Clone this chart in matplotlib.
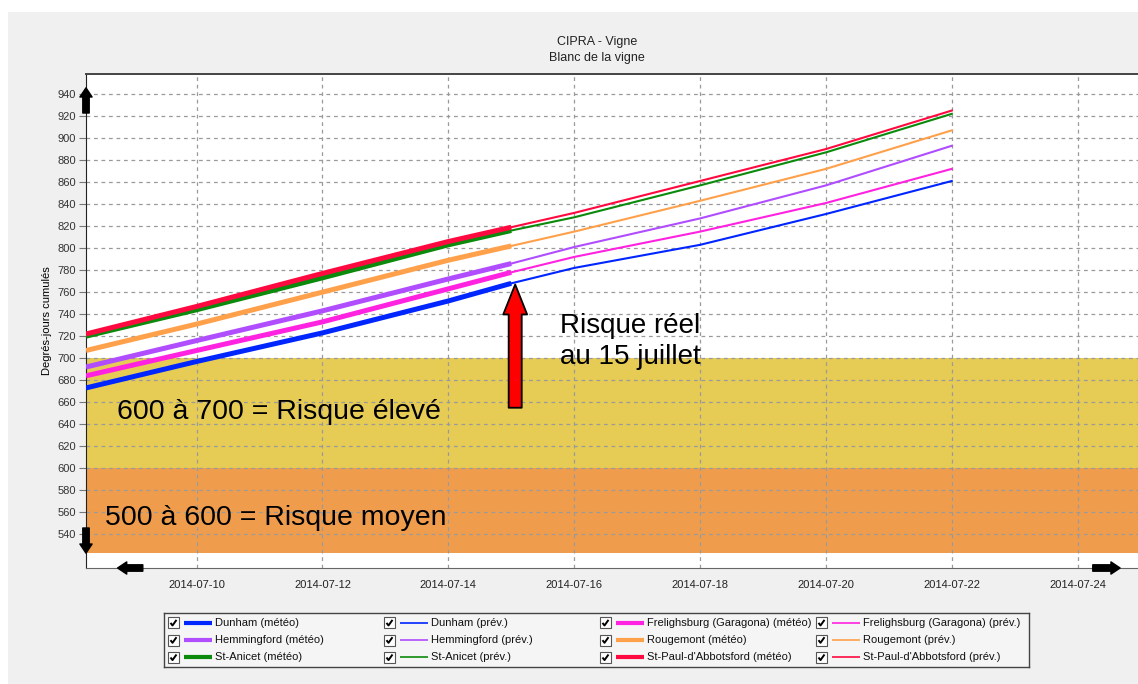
import matplotlib
matplotlib.use('Agg')
import matplotlib.pyplot as plt
import pandas as pd
from matplotlib.patches import Rectangle

plt.rcParams['font.family'] = ['Liberation Sans', 'DejaVu Sans']

# dates (données météo puis prévisions)
obs_dates = pd.to_datetime(['2014-07-08 05:50', '2014-07-10 00:00', '2014-07-12 00:00',
                            '2014-07-14 00:00', '2014-07-15 00:00'])
prev_dates = pd.to_datetime(['2014-07-15 00:00', '2014-07-16 00:00', '2014-07-18 00:00',
                             '2014-07-20 00:00', '2014-07-22 00:00'])

stations = ['Dunham', 'Frelighsburg (Garagona)', 'Hemmingford', 'Rougemont', 'St-Anicet', "St-Paul-d'Abbotsford"]
couleurs = ['#0026ff', '#ff22e0', '#b04dff', '#ffa04a', '#0b8a0b', '#ff0a40']

dunham_obs = [673, 697, 723, 752, 768]
dunham_prev = [768, 782, 803, 831, 861]
freli_obs = [684, 707, 733, 763, 778]
freli_prev = [778, 792, 815, 841, 872]
hemm_obs = [692, 716, 743, 772, 786]
hemm_prev = [786, 801, 827, 857, 893]
rouge_obs = [707, 731, 760, 789, 802]
rouge_prev = [802, 815, 843, 872, 907]
anicet_obs = [720, 744, 773, 803, 816]
anicet_prev = [816, 828, 857, 887, 922]
paul_obs = [722, 747, 777, 806, 819]
paul_prev = [819, 832, 861, 890, 925]

obs = [dunham_obs, freli_obs, hemm_obs, rouge_obs, anicet_obs, paul_obs]
prev = [dunham_prev, freli_prev, hemm_prev, rouge_prev, anicet_prev, paul_prev]

yticks = list(range(540, 941, 20))
xticks = pd.date_range('2014-07-10', '2014-07-24', freq='2D')

W, H = 1138, 684
fig = plt.figure(figsize=(W / 100, H / 100), dpi=100)
fig.patch.set_facecolor('white')
fig.patches.append(Rectangle((8 / W, 0), 1, 1 - 12 / H, transform=fig.transFigure,
                             fc='#f0f0f0', ec='none', zorder=-10))

ax = fig.add_axes([86 / W, 1 - 568 / H, 1 - 86 / W, (568 - 74) / H])
ax.set_facecolor('white')

# zones de risque
ax.axhspan(600, 700, color='#e6cc55', zorder=0.2, lw=0)
ax.axhspan(523, 600, color='#ef9d4d', zorder=0.2, lw=0)

for i in range(len(stations)):
    ax.plot(obs_dates, obs[i], color=couleurs[i], lw=3.6, solid_capstyle='butt',
            solid_joinstyle='round', zorder=3)
    ax.plot(prev_dates, prev[i], color=couleurs[i], lw=1.5, zorder=3)

ax.set_xlim(pd.Timestamp('2014-07-08 05:50'), pd.Timestamp('2014-07-24 23:00'))
ax.set_ylim(509.4, 958.2)
ax.set_yticks(yticks)
ax.set_xticks(xticks)
ax.set_xticklabels([d.strftime('%Y-%m-%d') for d in xticks])
ax.tick_params(axis='y', labelsize=8, labelcolor='#333333', color='#777777', length=5, pad=2)
ax.tick_params(axis='x', labelsize=8, labelcolor='#222222', length=0, pad=9)
ax.set_axisbelow(True)
ax.grid(True, ls=(0, (3, 3)), color='#9a9a9a', lw=0.9)
ax.set_ylabel('Degrés-jours cumulés', fontsize=8, labelpad=4)

ax.spines['right'].set_visible(False)
ax.spines['top'].set_color('#444444')
ax.spines['top'].set_linewidth(1.4)
ax.spines['left'].set_color('#222222')
ax.spines['bottom'].set_color('#666666')

# flèche rouge
xa = pd.Timestamp('2014-07-15 01:30')
ax.annotate('', xy=(xa, 767), xytext=(xa, 655),
            arrowprops=dict(arrowstyle='simple,head_length=1.08,head_width=0.86,tail_width=0.47',
                            mutation_scale=20, fc='#ff0000', ec='black', lw=1.3,
                            shrinkA=0, shrinkB=0), zorder=5)

ax.text(pd.Timestamp('2014-07-15 18:45'), 715, 'Risque réel\nau 15 juillet', fontsize=20,
        ha='left', va='center', linespacing=1.25, zorder=5)
ax.text(pd.Timestamp('2014-07-08 17:40'), 651, '600 à 700 = Risque élevé', fontsize=20.5,
        ha='left', va='center', zorder=5)
ax.text(pd.Timestamp('2014-07-08 13:00'), 555, '500 à 600 = Risque moyen', fontsize=20.5,
        ha='left', va='center', zorder=5)

# petites flèches de défilement
petite = dict(arrowstyle='simple,head_length=0.6,head_width=0.8,tail_width=0.42',
              mutation_scale=11, fc='black', ec='black', shrinkA=0, shrinkB=0)
for debut, fin in [((0, 0.921), (0, 0.972)), ((0, 0.081), (0, 0.030)),
                   ((0.054, 0.0), (0.030, 0.0)), ((0.957, 0.0), (0.983, 0.0))]:
    ax.annotate('', xy=fin, xytext=debut, xycoords='axes fraction',
                textcoords='axes fraction', arrowprops=petite, annotation_clip=False, zorder=6)

fig.text(597 / W, 1 - 42 / H, 'CIPRA - Vigne', ha='center', va='center', fontsize=9, color='#222222')
fig.text(597 / W, 1 - 58 / H, 'Blanc de la vigne', ha='center', va='center', fontsize=9, color='#222222')

# légende avec cases à cocher
lg = fig.add_axes([164 / W, 1 - 667 / H, (1029 - 164) / W, (667 - 613) / H])
lg.set_xlim(164, 1029)
lg.set_ylim(667, 613)
lg.set_facecolor('#f5f5f5')
lg.set_xticks([])
lg.set_yticks([])
for s in lg.spines.values():
    s.set_color('#444444')
    s.set_linewidth(1.0)

col_x = [168, 384, 600, 816]
row_y = [622.7, 640, 657.3]
for r in range(3):
    for c in range(4):
        i = 2 * r + c // 2
        meteo = c % 2 == 0
        x0, y0 = col_x[c], row_y[r]
        lg.add_patch(Rectangle((x0, y0 - 5.5), 11, 11, fc='white', ec='#555555', lw=0.8))
        lg.plot([x0 + 2.5, x0 + 4.5, x0 + 8.5], [y0 + 0.2, y0 + 2.8, y0 - 2.8],
                color='black', lw=1.4, solid_capstyle='butt')
        lg.plot([x0 + 16, x0 + 44], [y0, y0], color=couleurs[i],
                lw=3.0 if meteo else 1.2, solid_capstyle='butt')
        etiquette = stations[i] + (' (météo)' if meteo else ' (prév.)')
        lg.text(x0 + 47, y0, etiquette, fontsize=8, ha='left', va='center', color='#111111')

fig.savefig('out.png', dpi=100)
